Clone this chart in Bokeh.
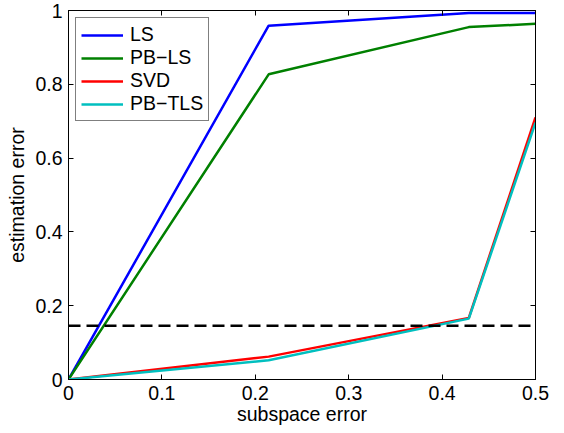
from bokeh.plotting import figure
from bokeh.models import (LinearAxis, FixedTicker, CustomJSTickFormatter, Range1d,
                          Legend, LegendItem)
from bokeh.embed import file_html
from bokeh.resources import INLINE

# data
x_vals = [0.0, 0.2143, 0.4286, 0.5]
ls_vals = [0.0, 0.959, 0.993, 0.993]
pbls_vals = [0.0, 0.827, 0.955, 0.964]
svd_vals = [0.0, 0.062, 0.167, 0.71]
pbtls_vals = [0.0, 0.052, 0.165, 0.696]
threshold_x = [0.0, 0.5]
threshold_y = [0.1455, 0.1455]
x_ticks = [0, 0.1, 0.2, 0.3, 0.4, 0.5]
y_ticks = [0, 0.2, 0.4, 0.6, 0.8, 1.0]

FONT = "Liberation Sans"
FS = "19.5px"

p = figure(width=564, height=433, output_backend="svg", toolbar_location=None,
           x_range=Range1d(0, 0.5), y_range=Range1d(0, 1),
           min_border_left=68, min_border_right=29, min_border_top=10, min_border_bottom=54)
p.background_fill_color = "white"
p.border_fill_color = "white"
p.grid.visible = False
p.outline_line_color = "black"
p.outline_line_width = 1

fmt = CustomJSTickFormatter(code="return String(Math.round(tick*10)/10);")
blank = CustomJSTickFormatter(code="return '';")

def style_axis(ax):
    ax.axis_line_color = "black"
    ax.major_tick_in = 5
    ax.major_tick_out = 0
    ax.minor_tick_in = 0
    ax.minor_tick_out = 0
    ax.major_label_text_font = FONT
    ax.major_label_text_font_size = FS
    ax.major_label_text_color = "black"
    ax.axis_label_text_font = FONT
    ax.axis_label_text_font_size = FS
    ax.axis_label_text_font_style = "normal"
    ax.axis_label_text_color = "black"

p.xaxis.ticker = FixedTicker(ticks=x_ticks)
p.yaxis.ticker = FixedTicker(ticks=y_ticks)
p.xaxis.formatter = fmt
p.yaxis.formatter = fmt
style_axis(p.xaxis[0])
style_axis(p.yaxis[0])
p.xaxis.axis_label = "subspace error"
p.yaxis.axis_label = "estimation error"
p.xaxis.major_label_standoff = 6
p.yaxis.major_label_standoff = 6
p.xaxis.axis_label_standoff = 0
p.yaxis.axis_label_standoff = 4

top = LinearAxis(ticker=FixedTicker(ticks=x_ticks), formatter=blank)
style_axis(top)
top.major_label_standoff = 0
right = LinearAxis(ticker=FixedTicker(ticks=y_ticks), formatter=blank)
style_axis(right)
right.major_label_standoff = 0
p.add_layout(top, "above")
p.add_layout(right, "right")

r_ls = p.line(x_vals, ls_vals, line_color="#0000ff", line_width=2.5)
r_pbls = p.line(x_vals, pbls_vals, line_color="#008000", line_width=2.5)
r_svd = p.line(x_vals, svd_vals, line_color="#ff0000", line_width=2.5)
r_pbtls = p.line(x_vals, pbtls_vals, line_color="#00bfbf", line_width=2.5)
p.line(threshold_x, threshold_y, line_color="black", line_width=2.5, line_dash="12 6")

legend = Legend(items=[
    LegendItem(label="LS", renderers=[r_ls]),
    LegendItem(label="PB\u2212LS", renderers=[r_pbls]),
    LegendItem(label="SVD", renderers=[r_svd]),
    LegendItem(label="PB\u2212TLS", renderers=[r_pbtls]),
], location="top_left")
legend.label_text_font = FONT
legend.label_text_font_size = FS
legend.label_text_color = "black"
legend.glyph_width = 42
legend.glyph_height = 20
legend.label_height = 20
legend.spacing = 0
legend.padding = 5
legend.margin = 7
legend.label_standoff = 7
legend.border_line_color = "black"
legend.border_line_width = 1
legend.background_fill_alpha = 1
p.add_layout(legend)

open("out.html", "w").write(file_html(p, INLINE))
